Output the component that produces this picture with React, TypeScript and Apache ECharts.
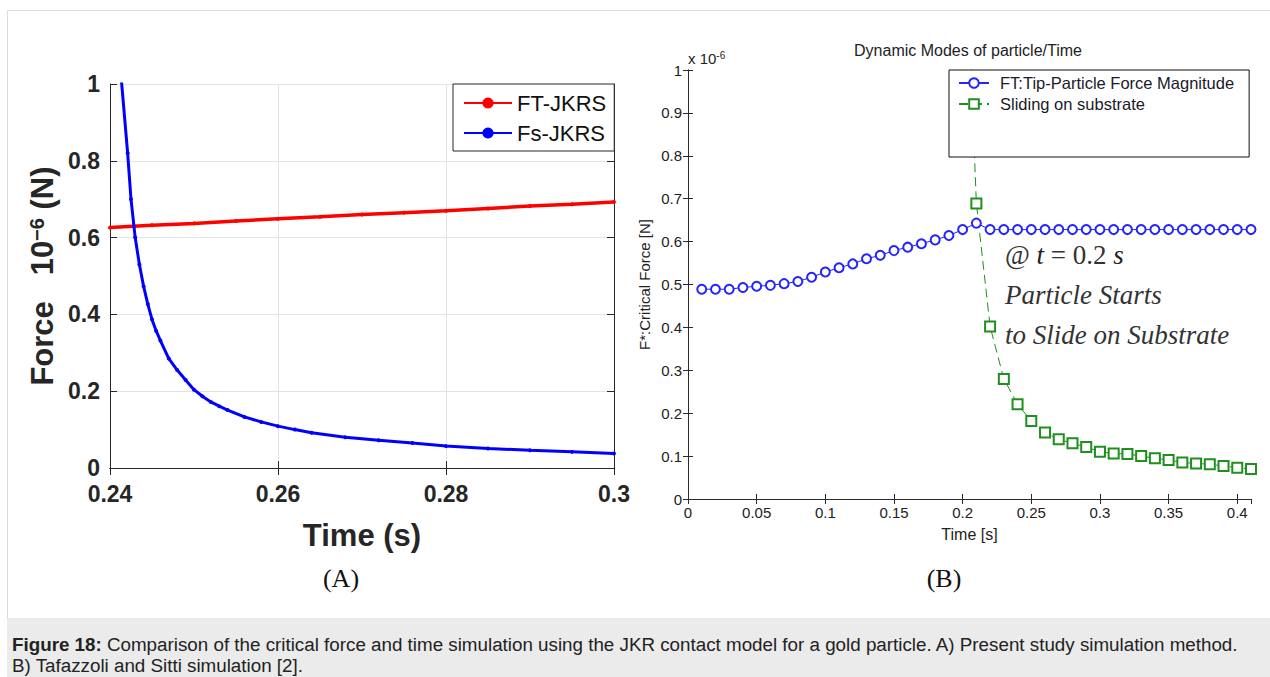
import React, { useEffect, useRef } from "react";
import * as echarts from "echarts";

// ---- Panel A data ----
const ftJkrsT = [0.24, 0.245, 0.25, 0.255, 0.26, 0.265, 0.27, 0.275, 0.28, 0.285, 0.29, 0.295, 0.3];
const ftJkrsV = [0.626, 0.632, 0.637, 0.643, 0.649, 0.654, 0.66, 0.665, 0.67, 0.676, 0.682, 0.687, 0.693];
const fsJkrsT = [0.2412, 0.2421, 0.2425, 0.243, 0.2435, 0.244, 0.2445, 0.245, 0.2455, 0.246, 0.247, 0.248, 0.249, 0.25, 0.251, 0.252, 0.253, 0.254, 0.256, 0.258, 0.26, 0.262, 0.264, 0.268, 0.272, 0.276, 0.28, 0.285, 0.29, 0.295, 0.3];
const fsJkrsV = [1.05, 0.82, 0.7, 0.6, 0.53, 0.473, 0.427, 0.387, 0.357, 0.332, 0.285, 0.255, 0.229, 0.204, 0.187, 0.172, 0.161, 0.151, 0.133, 0.12, 0.109, 0.1, 0.092, 0.08, 0.072, 0.065, 0.057, 0.051, 0.046, 0.042, 0.038];

// ---- Panel B data ----
const ftTipT = [0.01, 0.02, 0.03, 0.04, 0.05, 0.06, 0.07, 0.08, 0.09, 0.1, 0.11, 0.12, 0.13, 0.14, 0.15, 0.16, 0.17, 0.18, 0.19, 0.2, 0.21, 0.22, 0.23, 0.24, 0.25, 0.26, 0.27, 0.28, 0.29, 0.3, 0.31, 0.32, 0.33, 0.34, 0.35, 0.36, 0.37, 0.38, 0.39, 0.4, 0.41];
const ftTipV = [0.489, 0.489, 0.489, 0.493, 0.496, 0.498, 0.502, 0.507, 0.517, 0.529, 0.539, 0.548, 0.56, 0.568, 0.579, 0.587, 0.595, 0.604, 0.614, 0.628, 0.643, 0.628, 0.628, 0.628, 0.628, 0.628, 0.628, 0.628, 0.628, 0.628, 0.628, 0.628, 0.628, 0.628, 0.628, 0.628, 0.628, 0.628, 0.628, 0.628, 0.628];
const slideT = [0.2, 0.21, 0.22, 0.23, 0.24, 0.25, 0.26, 0.27, 0.28, 0.29, 0.3, 0.31, 0.32, 0.33, 0.34, 0.35, 0.36, 0.37, 0.38, 0.39, 0.4, 0.41];
const slideV = [1.5, 0.689, 0.402, 0.28, 0.221, 0.182, 0.155, 0.139, 0.13, 0.121, 0.11, 0.106, 0.105, 0.1, 0.095, 0.091, 0.085, 0.083, 0.081, 0.077, 0.073, 0.07];

const legendA = ["FT-JKRS", "Fs-JKRS"];
const legendB = ["FT:Tip-Particle Force Magnitude", "Sliding on substrate"];

const SANS = "Liberation Sans, Arial, sans-serif";
const SERIF = "Liberation Serif, Times New Roman, serif";

const zip = (a: number[], b: number[]) => a.map((x, i) => [x, b[i]]);
const fmt = (v: number) => String(+v.toFixed(2));

export default function App() {
  const ref = useRef<HTMLDivElement>(null);
  useEffect(() => {
    const chart = echarts.init(ref.current!, null, { renderer: "svg" });
    const axA = "#262626";
    const axB = "#2a2a2a";
    const leftCommonX = { gridIndex: 0, type: "value", min: 0.24, max: 0.3, interval: 0.02 };
    const leftCommonY = { gridIndex: 0, type: "value", min: 0, max: 1, interval: 0.2 };
    const rightCommonX = { gridIndex: 1, type: "value", min: 0, max: 0.41, interval: 0.05 };
    const rightCommonY = { gridIndex: 1, type: "value", min: 0, max: 1, interval: 0.1 };

    const option: any = {
      animation: false,
      backgroundColor: "#fff",
      grid: [
        { left: 110, top: 84, width: 504, height: 384 },
        { left: 688, top: 70, width: 563, height: 429 },
      ],
      xAxis: [
        {
          ...leftCommonX, position: "bottom",
          axisLine: { lineStyle: { color: axA, width: 1 } },
          axisTick: { inside: true, length: 7, lineStyle: { color: axA } },
          axisLabel: { color: axA, fontFamily: SANS, fontWeight: "bold", fontSize: 23, margin: 14, formatter: fmt },
          splitLine: { show: true, lineStyle: { color: "#e3e3e3" } },
          name: "Time (s)", nameLocation: "middle", nameGap: 52,
          nameTextStyle: { color: axA, fontFamily: SANS, fontWeight: "bold", fontSize: 31 },
        },
        {
          ...leftCommonX, position: "top",
          axisLine: { show: true, lineStyle: { color: axA, width: 1 } },
          axisTick: { inside: true, length: 7, lineStyle: { color: axA } },
          axisLabel: { show: false }, splitLine: { show: false },
        },
        {
          ...rightCommonX, position: "bottom",
          axisLine: { lineStyle: { color: axB, width: 1 } },
          axisTick: { inside: true, length: 5, lineStyle: { color: axB } },
          axisLabel: { color: "#222", fontFamily: SANS, fontSize: 15, margin: 6, showMaxLabel: false, formatter: fmt },
          splitLine: { show: false },
          name: "Time [s]", nameLocation: "middle", nameGap: 27,
          nameTextStyle: { color: "#222", fontFamily: SANS, fontSize: 16 },
        },
        {
          ...rightCommonX, position: "top",
          axisLine: { show: true, lineStyle: { color: axB, width: 1 } },
          axisTick: { inside: true, length: 5, lineStyle: { color: axB } },
          axisLabel: { show: false }, splitLine: { show: false },
        },
      ],
      yAxis: [
        {
          ...leftCommonY, position: "left",
          axisLine: { show: true, lineStyle: { color: axA, width: 1 } },
          axisTick: { show: true, inside: true, length: 7, lineStyle: { color: axA } },
          axisLabel: { color: axA, fontFamily: SANS, fontWeight: "bold", fontSize: 23, margin: 10, formatter: fmt },
          splitLine: { show: true, lineStyle: { color: "#e3e3e3" } },
          name: "{b|Force   10}{s|−6}{b| (N)}", nameLocation: "middle", nameRotate: 90, nameGap: 52,
          nameTextStyle: {
            color: axA, fontFamily: SANS, fontWeight: "bold", fontSize: 31,
            rich: {
              b: { color: axA, fontFamily: SANS, fontWeight: "bold", fontSize: 31 },
              s: { color: axA, fontFamily: SANS, fontWeight: "bold", fontSize: 20, verticalAlign: "top" },
            },
          },
        },
        {
          ...leftCommonY, position: "right",
          axisLine: { show: true, lineStyle: { color: axA, width: 1 } },
          axisTick: { show: true, inside: true, length: 7, lineStyle: { color: axA } },
          axisLabel: { show: false }, splitLine: { show: false },
        },
        {
          ...rightCommonY, position: "left",
          axisLine: { show: true, lineStyle: { color: axB, width: 1 } },
          axisTick: { show: true, inside: true, length: 5, lineStyle: { color: axB } },
          axisLabel: { color: "#222", fontFamily: SANS, fontSize: 15, margin: 6, formatter: fmt },
          splitLine: { show: false },
          name: "F*:Critical Force [N]", nameLocation: "middle", nameRotate: 90, nameGap: 36,
          nameTextStyle: { color: "#222", fontFamily: SANS, fontSize: 15 },
        },
        {
          ...rightCommonY, position: "right",
          axisLine: { show: true, lineStyle: { color: axB, width: 1 } },
          axisTick: { show: true, inside: true, length: 5, lineStyle: { color: axB } },
          axisLabel: { show: false }, splitLine: { show: false },
        },
      ],
      legend: [
        {
          data: legendA, orient: "vertical", left: 453, top: 84, padding: [7, 8, 6, 10],
          itemWidth: 48, itemHeight: 14, itemGap: 6, selectedMode: false,
          backgroundColor: "#fff", borderColor: "#262626", borderWidth: 1, borderRadius: 0,
          textStyle: { fontFamily: SANS, fontSize: 22, color: "#111", lineHeight: 24 },
        },
        {
          data: legendB, orient: "vertical", left: 949, top: 70, padding: [4, 15, 44, 9],
          itemWidth: 30, itemHeight: 12, itemGap: 3, selectedMode: false,
          backgroundColor: "#fff", borderColor: "#111", borderWidth: 1, borderRadius: 0,
          textStyle: { fontFamily: SANS, fontSize: 16.5, color: "#1a1a2a", lineHeight: 18, padding: [0, 0, 0, 6] },
        },
      ],
      series: [
        {
          name: legendA[0], type: "line", xAxisIndex: 0, yAxisIndex: 0,
          data: zip(ftJkrsT, ftJkrsV), color: "#ff0000",
          symbol: "circle", symbolSize: 4, lineStyle: { width: 3.5 },
        },
        {
          name: legendA[1], type: "line", xAxisIndex: 0, yAxisIndex: 0,
          data: zip(fsJkrsT, fsJkrsV), color: "#0000ff",
          symbol: "circle", symbolSize: 4, lineStyle: { width: 3 },
        },
        {
          name: legendB[0], type: "line", xAxisIndex: 2, yAxisIndex: 2,
          data: zip(ftTipT, ftTipV), color: "#2424ff",
          symbol: "emptyCircle", symbolSize: 9, lineStyle: { width: 1 },
          itemStyle: { borderWidth: 1 },
        },
        {
          name: legendB[1], type: "line", xAxisIndex: 2, yAxisIndex: 2,
          data: zip(slideT, slideV), color: "#1f8f1f",
          symbol: "emptyRect", symbolSize: 10, lineStyle: { width: 1, type: [9, 5] },
          itemStyle: { borderWidth: 1.2 },
        },
      ],
      graphic: [
        { type: "rect", z: -1, silent: true, shape: { x: 7.5, y: 10.5, width: 1280, height: 680 }, style: { fill: "none", stroke: "#dcdcdc", lineWidth: 1 } },
        { type: "rect", z: -1, silent: true, shape: { x: 7, y: 618, width: 1270, height: 60 }, style: { fill: "#ebebeb" } },
        {
          type: "text", z: 5, x: 968, y: 50,
          style: { text: "Dynamic Modes of particle/Time", fontFamily: SANS, fontSize: 16, fill: "#222", align: "center", verticalAlign: "middle" },
        },
        {
          type: "text", z: 5, x: 688, y: 58,
          style: {
            text: "{a|x 10}{s|-6}", fill: "#222", align: "left", verticalAlign: "middle",
            rich: { a: { fontFamily: SANS, fontSize: 15, fill: "#222" }, s: { fontFamily: SANS, fontSize: 10, fill: "#222", verticalAlign: "top" } },
          },
        },
        {
          type: "text", z: 5, x: 1005, y: 255,
          style: {
            text: "{r|@ }{i|t}{r| = 0.2 }{i|s}", fill: "#333", align: "left", verticalAlign: "middle",
            rich: {
              r: { fontFamily: SERIF, fontSize: 27, fill: "#333" },
              i: { fontFamily: SERIF, fontSize: 27, fontStyle: "italic", fill: "#222" },
            },
          },
        },
        {
          type: "text", z: 5, x: 1005, y: 295,
          style: { text: "Particle Starts", fontFamily: SERIF, fontSize: 27, fontStyle: "italic", fill: "#333", align: "left", verticalAlign: "middle" },
        },
        {
          type: "text", z: 5, x: 1005, y: 335,
          style: { text: "to Slide on Substrate", fontFamily: SERIF, fontSize: 27, fontStyle: "italic", fill: "#333", align: "left", verticalAlign: "middle" },
        },
        {
          type: "text", z: 5, x: 341, y: 578,
          style: { text: "(A)", fontFamily: SERIF, fontSize: 26, fill: "#111", align: "center", verticalAlign: "middle" },
        },
        {
          type: "text", z: 5, x: 944, y: 578,
          style: { text: "(B)", fontFamily: SERIF, fontSize: 26, fill: "#111", align: "center", verticalAlign: "middle" },
        },
        {
          type: "text", z: 5, x: 12, y: 644,
          style: {
            text: "{b|Figure 18:} Comparison of the critical force and time simulation using the JKR contact model for a gold particle. A) Present study simulation method.",
            fontFamily: SANS, fontSize: 18.8, fill: "#222", align: "left", verticalAlign: "middle",
            rich: { b: { fontFamily: SANS, fontSize: 18.8, fontWeight: "bold", fill: "#222" } },
          },
        },
        {
          type: "text", z: 5, x: 12, y: 665,
          style: { text: "B) Tafazzoli and Sitti simulation [2].", fontFamily: SANS, fontSize: 18.8, fill: "#222", align: "left", verticalAlign: "middle" },
        },
      ],
    };
    chart.setOption(option);
    return () => chart.dispose();
  }, []);
  return (
    <div
      ref={ref}
      style={{ position: "absolute", left: 0, top: 0, width: 1270, height: 677 }}
    />
  );
}
